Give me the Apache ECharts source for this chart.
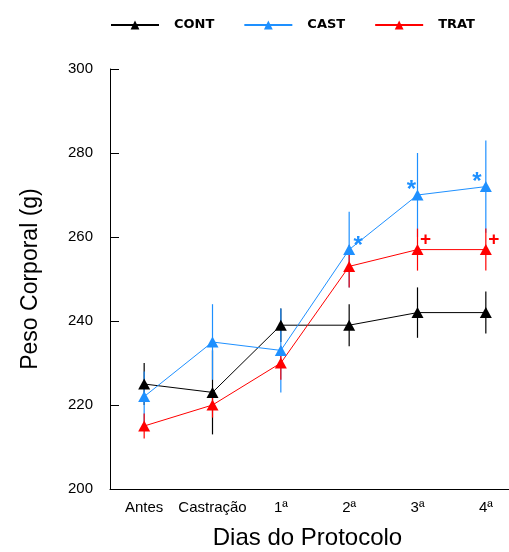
<!DOCTYPE html>
<html><head><meta charset="utf-8">
<script src="https://cdn.jsdelivr.net/npm/echarts@6/dist/echarts.min.js"></script>
<style>html,body{margin:0;padding:0;background:#fff}#c{width:509px;height:552px}</style>
</head><body><div id="c"></div>
<script>
const categories = ['Antes', 'Castração', '1ª', '2ª', '3ª', '4ª'];
const yTicks = [200, 220, 240, 260, 280, 300];
const seriesNames = ['CONT', 'CAST', 'TRAT'];
const contMean = [225, 223, 239, 239, 242, 242];
const contErr  = [5, 10, 4, 5, 6, 5];
const castMean = [222, 235, 233, 257, 270, 272];
const castErr  = [6, 9, 10, 9, 10, 11];
const tratMean = [215, 220, 230, 253, 257, 257];
const tratErr  = [3, 3, 4, 5, 5, 5];
const castMarks = ['', '', '', '*', '*', '*'];
const tratMarks = ['', '', '', '', '+', '+'];

const colors = {CONT: '#000000', CAST: '#1E90FF', TRAT: '#FF0000'};
const FONT = '"Liberation Sans", Arial, sans-serif';
const castOffsets = [[0,0],[0,0],[0,0],[9,-3],[-6,-5],[-9,-4]];
const tratOffsets = [[0,0],[0,0],[0,0],[0,0],[8,-10],[8,-10]];

function errData(mean, err) {
  return mean.map((m, i) => [i, m - err[i], m + err[i]]);
}
function errSeries(name, mean, err) {
  return {
    type: 'custom', name: name + '_err', z: 1, silent: true,
    data: errData(mean, err),
    renderItem: function (params, api) {
      const p1 = api.coord([api.value(0), api.value(1)]);
      const p2 = api.coord([api.value(0), api.value(2)]);
      return {type: 'line', shape: {x1: p1[0], y1: p1[1], x2: p2[0], y2: p2[1]},
        style: {stroke: colors[name], lineWidth: 1.2}};
    }
  };
}
function lineSeries(name, mean, marks, offsets) {
  return {
    type: 'line', name: name, z: 3,
    symbol: 'triangle', symbolSize: [12, 11],
    color: colors[name],
    lineStyle: {width: 1, color: colors[name]},
    itemStyle: {color: colors[name]},
    data: mean.map((v, i) => {
      const item = {value: v};
      if (marks && marks[i]) {
        const isStar = marks[i] === '*';
        item.label = {show: true, position: 'inside', formatter: marks[i],
          offset: offsets[i], color: colors[name], fontSize: isStar ? 24 : 19, fontWeight: 'bold', fontFamily: FONT};
      }
      return item;
    })
  };
}

const chart = echarts.init(document.getElementById('c'), null, {renderer: 'canvas'});
chart.setOption({
  animation: false,
  backgroundColor: '#fff',
  grid: {left: 110, top: 69, width: 410, bottom: 63, containLabel: false, outerBoundsMode: 'none'},
  legend: {
    data: seriesNames, left: 110, top: 18.5, padding: 0, itemWidth: 48, itemHeight: 11, itemGap: 29,
    textStyle: {fontFamily: '"DejaVu Sans", sans-serif', fontWeight: 'bold', fontSize: 13, color: '#000',
      width: 44, padding: [0, 0, 0, 10]}
  },
  xAxis: {
    type: 'category', data: categories, boundaryGap: true,
    axisLine: {lineStyle: {color: '#000', width: 1}},
    axisTick: {inside: true, length: 9, alignWithLabel: true, lineStyle: {color: '#000'}},
    axisLabel: {fontSize: 15, color: '#000', margin: 11, fontFamily: FONT, interval: 0},
    name: 'Dias do Protocolo', nameLocation: 'middle', nameGap: 37,
    nameTextStyle: {fontSize: 24, color: '#000', fontFamily: FONT, padding: [0, 15, 0, 0]}
  },
  yAxis: {
    type: 'value', min: yTicks[0], max: yTicks[yTicks.length - 1], interval: yTicks[1] - yTicks[0],
    axisLine: {show: true, lineStyle: {color: '#000', width: 1}},
    axisTick: {show: true, inside: true, length: 9, lineStyle: {color: '#000'}},
    splitLine: {show: false},
    axisLabel: {fontSize: 15, color: '#000', margin: 17, fontFamily: FONT, padding: [4, 0, 0, 0]},
    name: 'Peso Corporal (g)', nameLocation: 'middle', nameGap: 68, nameRotate: 90,
    nameTextStyle: {fontSize: 23, color: '#000', fontFamily: FONT}
  },
  series: [
    errSeries('CONT', contMean, contErr),
    errSeries('CAST', castMean, castErr),
    errSeries('TRAT', tratMean, tratErr),
    lineSeries('CONT', contMean, null, null),
    lineSeries('CAST', castMean, castMarks, castOffsets),
    lineSeries('TRAT', tratMean, tratMarks, tratOffsets)
  ]
});
</script></body></html>
